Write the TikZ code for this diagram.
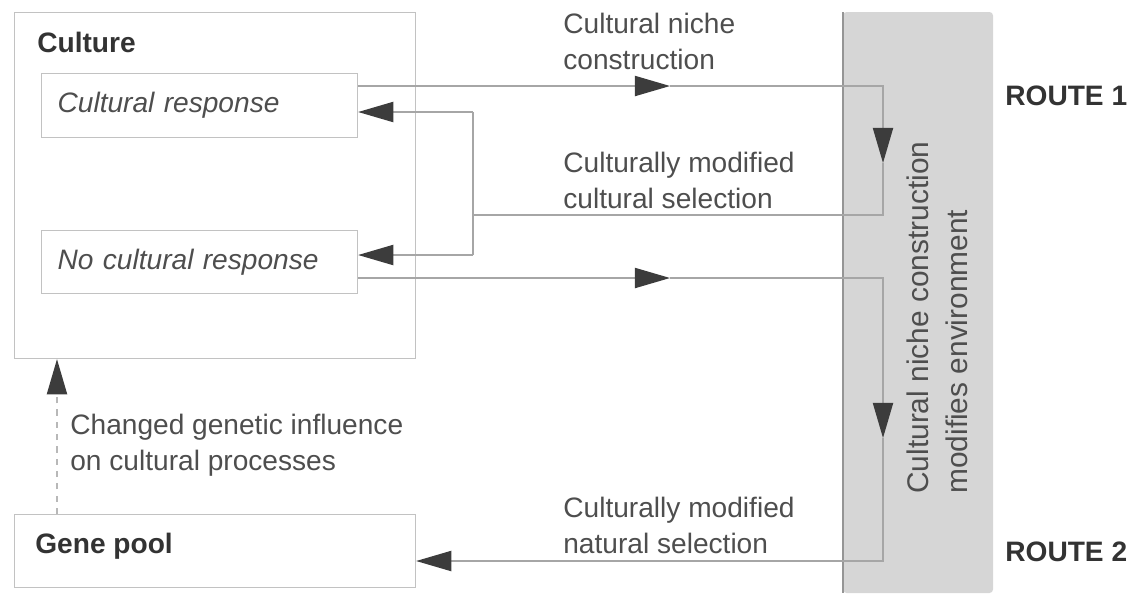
\documentclass[tikz,border=0pt]{standalone}
\usepackage{fontspec}
\setmainfont{Liberation Sans}
\usetikzlibrary{arrows.meta}

\definecolor{txtgray}{HTML}{4E4E4E}
\definecolor{darkgray}{HTML}{333333}
\definecolor{linegray}{HTML}{A6A6A6}
\definecolor{boxgray}{HTML}{C2C2C2}
\definecolor{bandgray}{HTML}{D6D6D6}
\definecolor{tipgray}{HTML}{3C3C3C}

\tikzset{
	txt/.style={inner sep=0, anchor=north west, align=left, text=txtgray,
		font=\fontsize{16}{20.5}\selectfont},
	bold/.style={txt, text=darkgray, font=\fontsize{16}{20.5}\selectfont\bfseries},
	box/.style={draw=boxgray, line width=0.7pt, anchor=north west, inner sep=0},
	conn/.style={draw=linegray, line width=0.8pt},
	tip/.style={-{Triangle[length=20pt, width=11.5pt, color=tipgray]}},
}

\begin{document}
\begin{tikzpicture}[x=0.02cm, y=-0.02cm]
		\useasboundingbox (0,0) rectangle (1133,593);

		% shaded environment band
		\fill[bandgray, rounded corners=2pt] (843,12) rectangle (993,593);
		\draw[line width=0.9pt, color=linegray!90!black] (843,12) -- (843,593);
		\node[txt, rotate=90, font=\fontsize{17}{22.3}\selectfont] (envlbl) at (906,494)
			{Cultural niche construction\\modifies environment};

		% boxes
		\node[box, minimum width=8.02cm, minimum height=6.92cm] (culture) at (14,12) {};
		\node[bold] (culturelbl) at (37,32) {Culture};
		\node[box, minimum width=6.32cm, minimum height=1.28cm, text width=6.32cm,
			inner xsep=0.32cm, text width=5.68cm, align=left, text=txtgray,
			font=\fontsize{16}{20.5}\selectfont\itshape] (cresp) at (41,73) {Cultural response};
		\node[box, minimum width=6.32cm, minimum height=1.26cm,
			inner xsep=0.32cm, text width=5.68cm, align=left, text=txtgray,
			font=\fontsize{16}{20.5}\selectfont\itshape] (ncresp) at (41,230) {No cultural response};
		\node[box, minimum width=8.02cm, minimum height=1.46cm] (gene) at (14,514) {};
		\node[bold] (genelbl) at (35,533) {Gene pool};

		% labels
		\node[txt] (nichelbl) at (563,13) {Cultural niche\\construction};
		\node[txt] (csellbl) at (563,152) {Culturally modified\\cultural selection};
		\node[txt] (nsellbl) at (563,497) {Culturally modified\\natural selection};
		\node[txt] (inflbl) at (70,414) {Changed genetic influence\\on cultural processes};
		\node[bold] (route1) at (1005,86) {ROUTE 1};
		\node[bold] (route2) at (1005,542) {ROUTE 2};

		% route 1
		\coordinate (r1a) at (670,86);
		\coordinate (r1b) at (883,86);
		\coordinate (r1c) at (883,163);
		\coordinate (r1d) at (883,215);
		\coordinate (fb) at (473,215);
		\coordinate (fbu) at (473,112);
		\coordinate (fbl) at (473,255);
		\draw[conn, tip] (cresp.east |- r1a) -- (r1a);
		\draw[conn, tip] (r1a) -- (r1b) -- (r1c);
		\draw[conn] (r1c) -- (r1d) -- (fb);
		\draw[conn] (fbu) -- (fbl);
		\draw[conn, tip] (fbu) -- (fbu -| cresp.east);
		\draw[conn, tip] (fbl) -- (fbl -| ncresp.east);

		% route 2
		\coordinate (r2a) at (670,278);
		\coordinate (r2b) at (883,278);
		\coordinate (r2c) at (883,438);
		\coordinate (r2d) at (883,561);
		\draw[conn, tip] (ncresp.east |- r2a) -- (r2a);
		\draw[conn, tip] (r2a) -- (r2b) -- (r2c);
		\draw[conn, tip] (r2c) -- (r2d) -- (r2d -| gene.east);

		% genes back to culture
		\draw[conn, draw=linegray!80, dash pattern=on 3.5pt off 3.5pt, tip]
			([xshift=0.86cm]gene.north west) -- ([xshift=0.86cm]culture.south west);
	\end{tikzpicture}
\end{document}
